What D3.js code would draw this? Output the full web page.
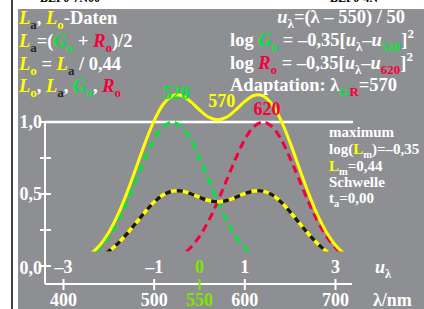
<!DOCTYPE html>
<html>
<head>
<meta charset="utf-8">
<script src="https://cdn.jsdelivr.net/npm/d3@7.9.0/dist/d3.min.js"></script>
<style>
  html, body { margin: 0; padding: 0; background: #fff; }
  svg { display: block; }
  text { font-family: "Liberation Serif", "Times New Roman", serif; font-weight: bold; }
</style>
</head>
<body>
<svg width="424" height="309"></svg>
<script>
// values (u = (lambda - 550) / 50)
const uValues = [-2.8, -2.6, -2.4, -2.2, -2.0, -1.8, -1.6, -1.4, -1.2, -1.0, -0.8, -0.6, -0.4, -0.2, 0.0,
  0.2, 0.4, 0.6, 0.8, 1.0, 1.2, 1.4, 1.6, 1.8, 2.0, 2.2, 2.4, 2.6, 2.8, 3.0, 3.2, 3.4];
const gValues = [0.020, 0.040, 0.074, 0.127, 0.206, 0.313, 0.447, 0.597, 0.748, 0.879, 0.968, 1.0, 0.968, 0.879, 0.748,
  0.597, 0.447, 0.313, 0.206, 0.127, 0.074, 0.040, 0.020, 0.010, 0.004, 0.002, 0.001, 0, 0, 0, 0, 0];
const rValues = [0, 0, 0, 0, 0, 0, 0.001, 0.002, 0.004, 0.010, 0.020, 0.040, 0.074, 0.127, 0.206,
  0.313, 0.447, 0.597, 0.748, 0.879, 0.968, 1.0, 0.968, 0.879, 0.748, 0.597, 0.447, 0.313, 0.206, 0.127, 0.074, 0.040];
const laValues = [0.010, 0.020, 0.037, 0.064, 0.103, 0.157, 0.224, 0.299, 0.376, 0.444, 0.494, 0.520, 0.521, 0.503, 0.477,
  0.455, 0.447, 0.455, 0.477, 0.503, 0.521, 0.520, 0.494, 0.444, 0.376, 0.299, 0.224, 0.157, 0.103, 0.064, 0.037, 0.020];
const loValues = [0.023, 0.045, 0.084, 0.144, 0.234, 0.356, 0.509, 0.680, 0.855, 1.010, 1.123, 1.182, 1.184, 1.143, 1.084,
  1.034, 1.016, 1.034, 1.084, 1.143, 1.184, 1.182, 1.123, 1.010, 0.855, 0.680, 0.509, 0.356, 0.234, 0.144, 0.084, 0.045];

const uTicks = [-3, -1, 0, 1, 3];
const uTickLabels = ["–3", "–1", "0", "1", "3"];
const nmTicks = [400, 500, 550, 600, 700];
const yTicks = [0, 0.25, 0.5, 0.75, 1.0];
const yTickLabels = {0: "0,0", 0.5: "0,5", 1: "1,0"};
const peakLabels = [{t: "520", u: -0.6}, {t: "570", u: 0.4}, {t: "620", u: 1.4}];

const YEL = "#ffff00", GRN = "#00e63c", RED = "#f5003c", LIME = "#7ee600", DARK = "#262626", WH = "#ffffff";

const svg = d3.select("svg");
const x = d3.scaleLinear().domain([-3, 3]).range([63.5, 335.5]);
const xn = d3.scaleLinear().domain([400, 700]).range([63.5, 335.5]);
const y = d3.scaleLinear().domain([0, 1]).range([266, 122]);

// background
svg.append("rect").attr("x", 18).attr("y", 9).attr("width", 406).attr("height", 300).attr("fill", "#8e8f93");
svg.append("line").attr("x1", 12).attr("x2", 12).attr("y1", 0).attr("y2", 309).attr("stroke", "#000").attr("stroke-width", 1.5);
svg.append("text").attr("x", 40).attr("y", 2).attr("font-size", 12).attr("fill", "#000").text("BEF0-7N00");
svg.append("text").attr("x", 330).attr("y", 2).attr("font-size", 12).attr("fill", "#000").text("BEF0-4N");

// rich text helper: parts = [text, color, flags] ; flags: i italic, s sub, p sup
function rich(px, py, size, parts, anchor) {
  const t = svg.append("text").attr("x", px).attr("y", py).attr("font-size", size)
    .attr("text-anchor", anchor || "start");
  let shift = 0;
  parts.forEach(([s, c, f]) => {
    f = f || "";
    let target = f.includes("s") ? size * 0.28 : f.includes("p") ? -size * 0.45 : 0;
    const ts = t.append("tspan").text(s).attr("fill", c).attr("dy", target - shift);
    shift = target;
    if (f.includes("s") || f.includes("p")) ts.attr("font-size", size * 0.7);
    if (f.includes("i")) ts.attr("font-style", "italic");
  });
  return t;
}

// left text block
const FS = 18.5;
rich(19, 24, FS, [["L", YEL, "i"], ["a", DARK, "s"], [", ", WH], ["L", YEL, "i"], ["o", YEL, "s"], ["-Daten", WH]]);
rich(19, 47, FS, [["L", YEL, "i"], ["a", DARK, "s"], ["=(", WH], ["G", GRN, "i"], ["o", GRN, "s"], [" + ", WH], ["R", RED, "i"], ["o", RED, "s"], [")/2", WH]]);
rich(19, 70, FS, [["L", YEL, "i"], ["o", YEL, "s"], [" = ", WH], ["L", YEL, "i"], ["a", DARK, "s"], [" / 0,44", WH]]);
rich(19, 92, FS, [["L", YEL, "i"], ["o", YEL, "s"], [", ", WH], ["L", YEL, "i"], ["a", DARK, "s"], [", ", WH], ["G", GRN, "i"], ["o", GRN, "s"], [", ", WH], ["R", RED, "i"], ["o", RED, "s"]]);

// right text block
rich(405, 23, FS, [["u", WH, "i"], ["λ", WH, "s"], ["=(λ – 550) / 50", WH]], "end");
rich(230, 46, FS, [["log ", WH], ["G", GRN, "i"], ["o", GRN, "s"], [" = –0,35[", WH], ["u", WH, "i"], ["λ", WH, "s"], ["–", WH], ["u", WH, "i"], ["520", GRN, "s"], ["]", WH], ["2", WH, "p"]]);
rich(230, 69, FS, [["log ", WH], ["R", RED, "i"], ["o", RED, "s"], [" = –0,35[", WH], ["u", WH, "i"], ["λ", WH, "s"], ["–", WH], ["u", WH, "i"], ["620", RED, "s"], ["]", WH], ["2", WH, "p"]]);
rich(230, 91, FS, [["Adaptation: λ", WH], ["G", GRN, "s"], ["R", RED, "s"], ["=570", WH]]);

// right middle block
const FM = 15;
rich(329, 137, FM, [["maximum", WH]]);
rich(329, 154, FM, [["log(", WH], ["L", YEL], ["m", WH, "s"], [")=–0,35", WH]]);
rich(329, 171, FM, [["L", YEL], ["m", WH, "s"], ["=0,44", WH]]);
rich(329, 187, FM, [["Schwelle", WH]]);
rich(329, 203, FM, [["t", WH], ["a", WH, "s"], ["=0,00", WH]]);

// axes
const axisG = svg.append("g").attr("stroke", WH).attr("stroke-width", 2);
axisG.append("line").attr("x1", 45).attr("x2", 45).attr("y1", y(1)).attr("y2", 284);
axisG.append("line").attr("x1", 45).attr("x2", 352).attr("y1", 284).attr("y2", 284);
axisG.append("line").attr("x1", 45).attr("x2", 353).attr("y1", y(1)).attr("y2", y(1)).attr("stroke-width", 2.5);
axisG.selectAll("line.yt").data(yTicks).enter().append("line").attr("class", "yt")
  .attr("x1", 40).attr("x2", 51).attr("y1", d => y(d)).attr("y2", d => y(d));
axisG.selectAll("line.xt").data(nmTicks).enter().append("line").attr("class", "xt")
  .attr("x1", d => xn(d)).attr("x2", d => xn(d)).attr("y1", 279).attr("y2", 290)
  .attr("stroke", d => d === 550 ? LIME : WH);

const FA = 18;
svg.selectAll("text.yl").data(Object.keys(yTickLabels)).enter().append("text").attr("class", "yl")
  .attr("x", 42).attr("y", d => (+d === 0 ? 268 : y(+d)) + 6).attr("text-anchor", "end")
  .attr("font-size", FA).attr("fill", WH).text(d => yTickLabels[d]);
svg.selectAll("text.ul").data(uTicks).enter().append("text").attr("class", "ul")
  .attr("x", (d, i) => x(d)).attr("y", 273).attr("text-anchor", "middle")
  .attr("font-size", FA).attr("fill", d => d === 0 ? LIME : WH).text((d, i) => uTickLabels[i]);
svg.selectAll("text.nl").data(nmTicks).enter().append("text").attr("class", "nl")
  .attr("x", d => xn(d)).attr("y", 306).attr("text-anchor", "middle")
  .attr("font-size", FA).attr("fill", d => d === 550 ? LIME : WH).text(d => d);
rich(375, 273, FA, [["u", WH, "i"], ["λ", WH, "s"]]);
rich(373, 306, FA, [["λ/nm", WH]]);

// curves
svg.append("clipPath").attr("id", "clip").append("rect")
  .attr("x", 0).attr("y", 0).attr("width", 424).attr("height", y(0.1));
const plot = svg.append("g").attr("clip-path", "url(#clip)");
const line = vals => d3.line().x((d, i) => x(uValues[i])).y(d => y(d)).curve(d3.curveCatmullRom)(vals);

plot.append("path").attr("d", line(gValues)).attr("fill", "none").attr("stroke", GRN)
  .attr("stroke-width", 3).attr("stroke-dasharray", "8,5");
plot.append("path").attr("d", line(rValues)).attr("fill", "none").attr("stroke", RED)
  .attr("stroke-width", 3).attr("stroke-dasharray", "8,5");
plot.append("path").attr("d", line(laValues)).attr("fill", "none").attr("stroke", YEL).attr("stroke-width", 3.5);
plot.append("path").attr("d", line(laValues)).attr("fill", "none").attr("stroke", "#1a1a1a")
  .attr("stroke-width", 3.5).attr("stroke-dasharray", "6,6");
plot.append("path").attr("d", line(loValues)).attr("fill", "none").attr("stroke", YEL).attr("stroke-width", 3);

// peak labels
svg.selectAll("text.pk").data(peakLabels).enter().append("text").attr("class", "pk")
  .attr("x", d => x(d.u) + 4).attr("y", (d, i) => [99, 107, 115][i]).attr("text-anchor", "middle")
  .attr("font-size", FA).attr("fill", (d, i) => [GRN, YEL, RED][i]).text(d => d.t);
</script>
</body>
</html>
